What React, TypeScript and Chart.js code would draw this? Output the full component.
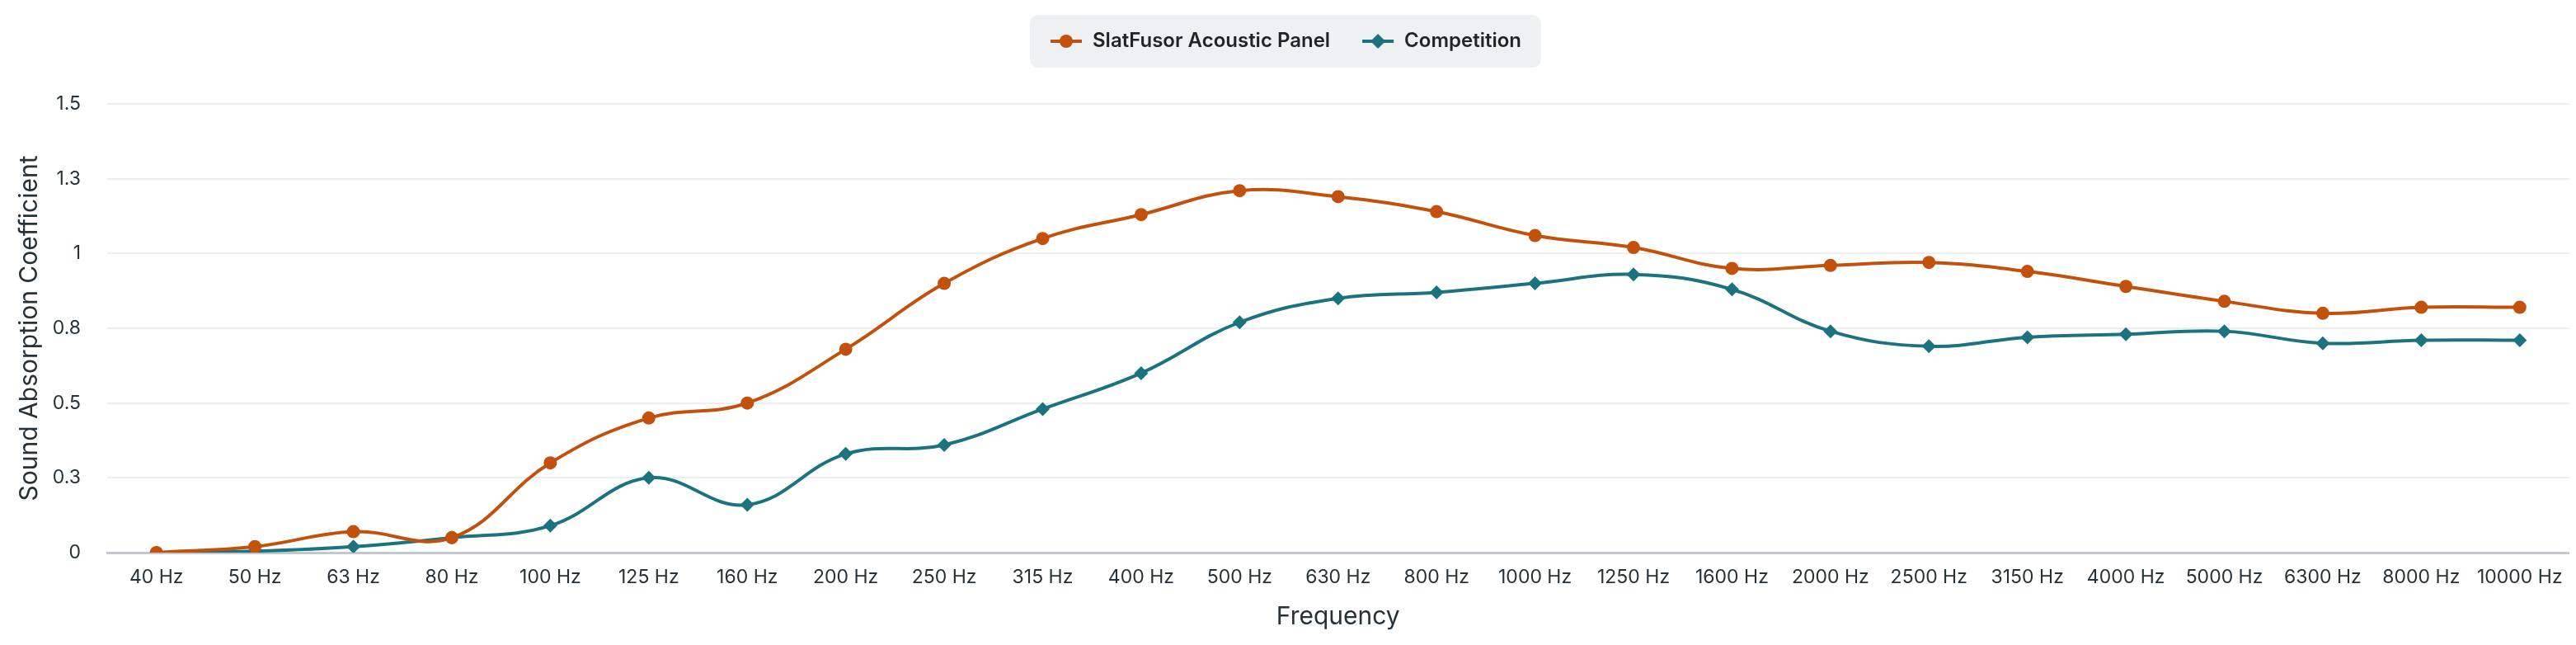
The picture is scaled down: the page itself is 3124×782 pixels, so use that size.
import React, { useEffect, useRef } from "react";
import { Chart, registerables } from "chart.js";

Chart.register(...registerables);

const categories = [
  "40 Hz", "50 Hz", "63 Hz", "80 Hz", "100 Hz", "125 Hz", "160 Hz", "200 Hz",
  "250 Hz", "315 Hz", "400 Hz", "500 Hz", "630 Hz", "800 Hz", "1000 Hz", "1250 Hz",
  "1600 Hz", "2000 Hz", "2500 Hz", "3150 Hz", "4000 Hz", "5000 Hz", "6300 Hz",
  "8000 Hz", "10000 Hz",
];

const slatFusorValues = [
  0, 0.02, 0.07, 0.05, 0.3, 0.45, 0.5, 0.68, 0.9, 1.05, 1.13, 1.21, 1.19, 1.14,
  1.06, 1.02, 0.95, 0.96, 0.97, 0.94, 0.89, 0.84, 0.8, 0.82, 0.82,
];

const competitionValues = [
  0, 0.005, 0.02, 0.05, 0.09, 0.25, 0.16, 0.33, 0.36, 0.48, 0.6, 0.77, 0.85, 0.87,
  0.9, 0.93, 0.88, 0.74, 0.69, 0.72, 0.73, 0.74, 0.7, 0.71, 0.71,
];

const yTickValues = [0, 0.25, 0.5, 0.75, 1, 1.25, 1.5];

const ORANGE = "#c2510e";
const TEAL = "#1b7380";
const TEXT = "#263238";
const FONT = "Inter, 'Noto Sans', sans-serif";

function makeMarker(color: string, style: "circle" | "diamond") {
  const c = document.createElement("canvas");
  c.width = 40;
  c.height = 22;
  const ctx = c.getContext("2d")!;
  ctx.strokeStyle = color;
  ctx.lineWidth = 4;
  ctx.beginPath();
  ctx.moveTo(1, 11);
  ctx.lineTo(39, 11);
  ctx.stroke();
  ctx.fillStyle = color;
  ctx.beginPath();
  if (style === "circle") {
    ctx.arc(20, 11, 8, 0, Math.PI * 2);
  } else {
    ctx.moveTo(20, 2);
    ctx.lineTo(29, 11);
    ctx.lineTo(20, 20);
    ctx.lineTo(11, 11);
    ctx.closePath();
  }
  ctx.fill();
  return c;
}

export default function App() {
  const ref = useRef<HTMLCanvasElement | null>(null);

  useEffect(() => {
    document.body.style.margin = "0";
    const canvas = ref.current;
    if (!canvas) return;
    const markers = [makeMarker(ORANGE, "circle"), makeMarker(TEAL, "diamond")];

    const legendExtra = {
      id: "legendExtra",
      beforeInit(chart: any) {
        const legend = chart.legend;
        if (legend) {
          const orig = legend.fit;
          legend.fit = function () {
            orig.call(this);
            this.height += 54;
          };
        }
      },
      beforeDraw(chart: any) {
        const legend = chart.legend;
        if (!legend || !legend.legendHitBoxes || !legend.legendHitBoxes.length) return;
        const boxes = legend.legendHitBoxes;
        let l = Infinity, r = -Infinity, cy = 0;
        boxes.forEach((b: any) => {
          l = Math.min(l, b.left);
          r = Math.max(r, b.left + b.width);
          cy = b.top + b.height / 2;
        });
        const x = l - 24, w = r - l + 48, y = cy - 32, h = 64, rad = 12;
        const ctx = chart.ctx;
        ctx.save();
        ctx.fillStyle = "#eef0f2";
        ctx.beginPath();
        ctx.moveTo(x + rad, y);
        ctx.lineTo(x + w - rad, y);
        ctx.quadraticCurveTo(x + w, y, x + w, y + rad);
        ctx.lineTo(x + w, y + h - rad);
        ctx.quadraticCurveTo(x + w, y + h, x + w - rad, y + h);
        ctx.lineTo(x + rad, y + h);
        ctx.quadraticCurveTo(x, y + h, x, y + h - rad);
        ctx.lineTo(x, y + rad);
        ctx.quadraticCurveTo(x, y, x + rad, y);
        ctx.closePath();
        ctx.fill();
        ctx.restore();
      },
    };

    const chart = new Chart(canvas, {
      type: "line",
      data: {
        labels: categories,
        datasets: [
          {
            label: "SlatFusor Acoustic Panel",
            data: slatFusorValues,
            borderColor: ORANGE,
            backgroundColor: ORANGE,
            borderWidth: 4,
            pointStyle: "circle",
            pointRadius: 8,
            pointBorderWidth: 0,
            tension: 0.4,
          },
          {
            label: "Competition",
            data: competitionValues,
            borderColor: TEAL,
            backgroundColor: TEAL,
            borderWidth: 4,
            pointStyle: "rectRot",
            pointRadius: 8.5,
            pointBorderWidth: 0,
            tension: 0.4,
          },
        ],
      },
      options: {
        animation: false,
        responsive: true,
        maintainAspectRatio: false,
        devicePixelRatio: 1,
        layout: { padding: { top: 0, left: 0, right: 6, bottom: 0 } },
        plugins: {
          tooltip: { enabled: false },
          legend: {
            position: "top",
            labels: {
              usePointStyle: true,
              pointStyleWidth: 40,
              padding: 38,
              color: "#1e2428",
              font: { family: FONT, size: 24, weight: "600" },
              generateLabels: (ch: any) =>
                ch.data.datasets.map((ds: any, i: number) => ({
                  text: ds.label,
                  pointStyle: markers[i],
                  fillStyle: ds.borderColor,
                  strokeStyle: ds.borderColor,
                  lineWidth: 0,
                  hidden: false,
                  datasetIndex: i,
                  fontColor: "#1e2428",
                })),
            },
          },
        },
        scales: {
          x: {
            offset: true,
            afterFit: (axis: any) => {
              axis.height = 112;
            },
            grid: { display: false },
            border: { display: true, color: "#c2c8cb", width: 3 },
            ticks: {
              color: TEXT,
              padding: 8,
              maxRotation: 0,
              autoSkip: false,
              font: { family: FONT, size: 23 },
            },
            title: {
              display: true,
              text: "Frequency",
              color: TEXT,
              padding: { top: 0, bottom: 16 },
              font: { family: FONT, size: 30 },
            },
          },
          y: {
            min: 0,
            max: 1.5,
            afterFit: (axis: any) => {
              axis.width = 130;
            },
            afterBuildTicks: (axis: any) => {
              axis.ticks = yTickValues.map((v) => ({ value: v }));
            },
            grid: { color: "#eeeeee", lineWidth: 2, drawTicks: false },
            border: { display: false },
            ticks: {
              color: TEXT,
              padding: 32,
              font: { family: FONT, size: 23 },
              callback: (v: any) => String(Math.round(Number(v) * 10) / 10),
            },
            title: {
              display: true,
              text: "Sound Absorption Coefficient",
              color: TEXT,
              padding: { top: 18, bottom: 0 },
              font: { family: FONT, size: 30 },
            },
          },
        },
      },
      plugins: [legendExtra],
    });

    return () => {
      chart.destroy();
    };
  }, []);

  return (
    <div style={{ width: "3124px", height: "782px", position: "relative" }}>
      <canvas ref={ref} />
    </div>
  );
}
